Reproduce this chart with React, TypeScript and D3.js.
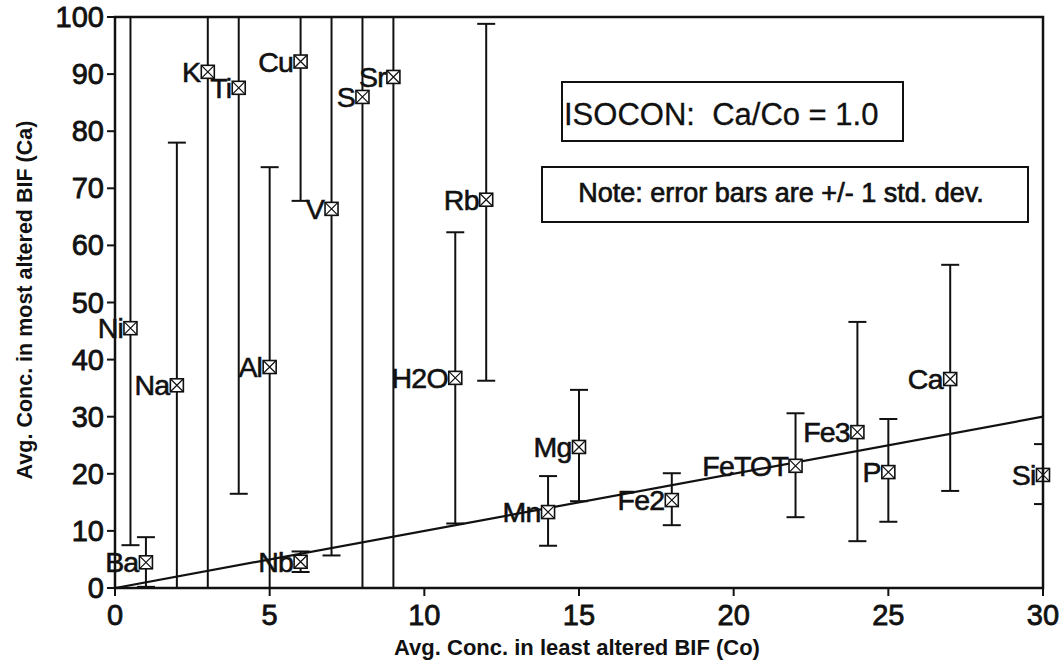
import React, { useEffect } from 'react';
import * as d3 from 'd3';

// element labels, least altered (Co) and most altered (Ca) concentrations
const elements = ['Ba', 'Ni', 'Na', 'K', 'Ti', 'Al', 'Cu', 'Nb', 'V', 'S', 'Sr', 'H2O', 'Rb', 'Mn', 'Mg', 'Fe2', 'FeTOT', 'Fe3', 'P', 'Ca', 'Si'];
const co = [1, 0.5, 2, 3, 4, 5, 6, 6, 7, 8, 9, 11, 12, 14, 15, 18, 22, 24, 25, 27, 30];
const ca = [4.5, 45.5, 35.5, 90.4, 87.6, 38.7, 92.2, 4.6, 66.4, 86, 89.5, 36.8, 68, 13.3, 24.7, 15.4, 21.4, 27.3, 20.3, 36.6, 19.8];
// error bar ends (+/- 1 std. dev.), bars running off the frame are clipped
const errLow = [0.2, 7.5, -7, -60, 16.5, -10, 67.8, 2.8, 5.7, -60, -60, 11.3, 36.3, 7.4, 15.2, 11, 12.4, 8.2, 11.6, 17, 14.7];
const errHigh = [8.9, 120, 78, 150, 160, 73.7, 120, 6.4, 127, 150, 150, 62.3, 98.8, 19.6, 34.7, 20.1, 30.6, 46.6, 29.6, 56.6, 25.2];

const xTicks = [0, 5, 10, 15, 20, 25, 30];
const yTicks = [0, 10, 20, 30, 40, 50, 60, 70, 80, 90, 100];
const isoconRatio = 1.0;

const W = 1063;
const H = 666;
const FONT = '"Liberation Sans", Arial, Helvetica, sans-serif';

export default function App() {
  useEffect(() => {
    document.body.style.margin = '0';
  }, []);

  const x = d3.scaleLinear().domain([0, 30]).range([115, 1043]);
  const y = d3.scaleLinear().domain([0, 100]).range([588, 17]);

  const isocon = d3.line<number>()
    .x(d => x(d))
    .y(d => y(d * isoconRatio));

  const m = 6.5; // half marker size
  const cap = 9;

  return (
    <svg width={W} height={H} style={{ display: 'block', background: '#fff' }} fontFamily={FONT}>
      <defs>
        <clipPath id="plot">
          <rect x={x(0)} y={y(100)} width={x(30) - x(0)} height={y(0) - y(100)} />
        </clipPath>
      </defs>
      <rect width={W} height={H} fill="#fff" />

      {/* error bars */}
      <g clipPath="url(#plot)" stroke="#111" strokeWidth={2} fill="none">
        {elements.map((el, i) => (
          <g key={el}>
            <line x1={x(co[i])} x2={x(co[i])} y1={y(errLow[i])} y2={y(errHigh[i])} />
            <line x1={x(co[i]) - cap} x2={x(co[i]) + cap} y1={y(errLow[i])} y2={y(errLow[i])} />
            <line x1={x(co[i]) - cap} x2={x(co[i]) + cap} y1={y(errHigh[i])} y2={y(errHigh[i])} />
          </g>
        ))}
        <path d={isocon([0, 30]) || ''} strokeWidth={2.2} />
      </g>

      {/* markers and labels */}
      {elements.map((el, i) => {
        const cx = x(co[i]);
        const cy = y(ca[i]);
        return (
          <g key={el}>
            <rect x={cx - m} y={cy - m} width={2 * m} height={2 * m} fill="#fff" stroke="#111" strokeWidth={1.6} />
            <path d={`M${cx - m},${cy - m}L${cx + m},${cy + m}M${cx + m},${cy - m}L${cx - m},${cy + m}`} stroke="#111" strokeWidth={1.2} />
            <text x={cx - m - 1} y={cy + 10} textAnchor="end" fontSize={28.5} letterSpacing={-0.8} fill="#111" stroke="#111" strokeWidth={0.6}>{el}</text>
          </g>
        );
      })}

      {/* frame */}
      <rect x={x(0)} y={y(100)} width={x(30) - x(0)} height={y(0) - y(100)} fill="none" stroke="#111" strokeWidth={2.5} />

      {/* y axis */}
      {yTicks.map(t => (
        <g key={t}>
          <line x1={x(0) - 8} x2={x(0)} y1={y(t)} y2={y(t)} stroke="#111" strokeWidth={2} />
          <text x={x(0) - 11} y={y(t) + 10} textAnchor="end" fontSize={29} fill="#111" stroke="#111" strokeWidth={0.8}>{t}</text>
        </g>
      ))}
      {/* x axis */}
      {xTicks.map(t => (
        <g key={t}>
          <line x1={x(t)} x2={x(t)} y1={y(0)} y2={y(0) + 8} stroke="#111" strokeWidth={2} />
          <text x={x(t)} y={625} textAnchor="middle" fontSize={29} fill="#111" stroke="#111" strokeWidth={0.8}>{t}</text>
        </g>
      ))}

      <text x={577} y={655} textAnchor="middle" fontSize={22} fontWeight="bold" fill="#111">Avg. Conc. in least altered BIF (Co)</text>
      <text transform="translate(32,300) rotate(-90)" textAnchor="middle" fontSize={21.5} fontWeight="bold" fill="#111">Avg. Conc. in most altered BIF (Ca)</text>

      {/* annotation boxes */}
      <rect x={562} y={82} width={341} height={59} fill="#fff" stroke="#111" strokeWidth={2} />
      <text x={564} y={125} fontSize={31} fill="#111" stroke="#111" strokeWidth={0.3}>ISOCON:{'\u00a0\u00a0'}Ca/Co = 1.0</text>
      <rect x={542} y={167} width={486} height={55} fill="#fff" stroke="#111" strokeWidth={2} />
      <text x={781} y={202} textAnchor="middle" fontSize={27} fill="#111" stroke="#111" strokeWidth={0.7}>Note: error bars are +/- 1 std. dev.</text>
    </svg>
  );
}
